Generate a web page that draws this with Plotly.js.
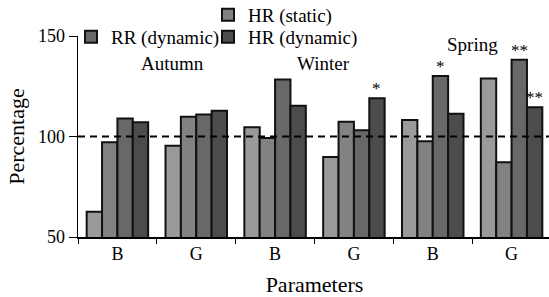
<!DOCTYPE html>
<html>
<head>
<meta charset="utf-8">
<script src="https://cdn.plot.ly/plotly-3.0.1.min.js"></script>
<style>
html,body{margin:0;padding:0;overflow:hidden;background:#fff;}
#chart{width:552px;height:297px;}
</style>
</head>
<body>
<div id="chart"></div>
<script>
// ---- data ----
var categories = ["Autumn B", "Autumn G", "Winter B", "Winter G", "Spring B", "Spring G"];
var tickLabels = ["B", "G", "B", "G", "B", "G"];
var seriesNames = ["RR (static)", "HR (static)", "RR (dynamic)", "HR (dynamic)"];
var rrStatic  = [62.6, 95.4, 104.6, 89.8, 108.2, 128.9];
var hrStatic  = [97.1, 109.8, 99.3, 107.4, 97.6, 87.2];
var rrDynamic = [108.9, 111.0, 128.3, 103.1, 130.1, 138.2];
var hrDynamic = [107.1, 112.8, 115.3, 119.0, 111.3, 114.5];
var starMarks = [
  {series: 3, cat: 3, text: "*"},
  {series: 2, cat: 4, text: "*"},
  {series: 2, cat: 5, text: "**"},
  {series: 3, cat: 5, text: "**"}
];
var seasonLabels = ["Autumn", "Winter", "Spring"];

(function () {
  var barColors = ["#9a9a9a", "#828282", "#686868", "#4c4c4c"];
  var fam = '"Liberation Serif", "Times New Roman", serif';
  var allSeries = [rrStatic, hrStatic, rrDynamic, hrDynamic];
  var legendIds = ["legend", "legend2", "legend3", "legend4"];
  var legendPos = [{x: 71, y: 15}, {x: 208, y: 15}, {x: 71, y: 37}, {x: 208, y: 37}];

  var data = allSeries.map(function (vals, i) {
    return {
      type: "bar", name: seriesNames[i], x: categories, y: vals,
      marker: {color: barColors[i], line: {color: "#111", width: 2}},
      legend: legendIds[i]
    };
  });

  var bargap = 0.22, barW = (1 - bargap) / 4;
  var anns = starMarks.map(function (s) {
    return {
      x: s.cat + (s.series - 1.5) * barW, y: allSeries[s.series][s.cat],
      xref: "x", yref: "y", text: s.text, showarrow: false,
      yanchor: "bottom", yshift: -2,
      font: {family: fam, size: 17, color: "#000"}
    };
  });
  var seasonPos = [{x: 0.7, y: 136.3}, {x: 2.62, y: 136.3}, {x: 4.5, y: 145.6}];
  seasonLabels.forEach(function (s, i) {
    anns.push({
      x: seasonPos[i].x, y: seasonPos[i].y, xref: "x", yref: "y",
      text: s, showarrow: false, yanchor: "middle",
      font: {family: fam, size: 19, color: "#000"}
    });
  });

  var lay = {
    width: 552, height: 297,
    margin: {l: 78, r: 1, t: 36, b: 60, autoexpand: false},
    font: {family: fam, size: 18, color: "#000"},
    barmode: "group", bargap: bargap,
    xaxis: {
      type: "category", tickson: "boundaries", ticks: "outside",
      tickmode: "array", tickvals: categories, ticktext: tickLabels,
      ticklen: 5, tickcolor: "#000",
      showline: true, linecolor: "#000", linewidth: 1.5,
      showgrid: false, zeroline: false,
      title: {text: "Parameters"}
    },
    yaxis: {
      range: [50, 150], dtick: 50, tick0: 0, ticks: "outside",
      ticklen: 8, tickcolor: "#000",
      showline: true, linecolor: "#000", linewidth: 1.5,
      showgrid: false, zeroline: false,
      title: {text: "Percentage"}
    },
    shapes: [{
      type: "line", xref: "paper", yref: "y", x0: 0, x1: 1, y0: 100, y1: 100,
      line: {color: "#000", width: 2, dash: "7px,5px"}, layer: "above"
    }],
    annotations: anns
  };
  legendIds.forEach(function (id, i) {
    lay[id] = {
      orientation: "h", xref: "container", yref: "container",
      x: legendPos[i].x / 552, y: 1 - legendPos[i].y / 297,
      xanchor: "left", yanchor: "middle",
      bgcolor: "rgba(0,0,0,0)",
      font: {family: fam, size: 19}
    };
  });

  Plotly.newPlot("chart", data, lay, {staticPlot: true});
})();
</script>
</body>
</html>
